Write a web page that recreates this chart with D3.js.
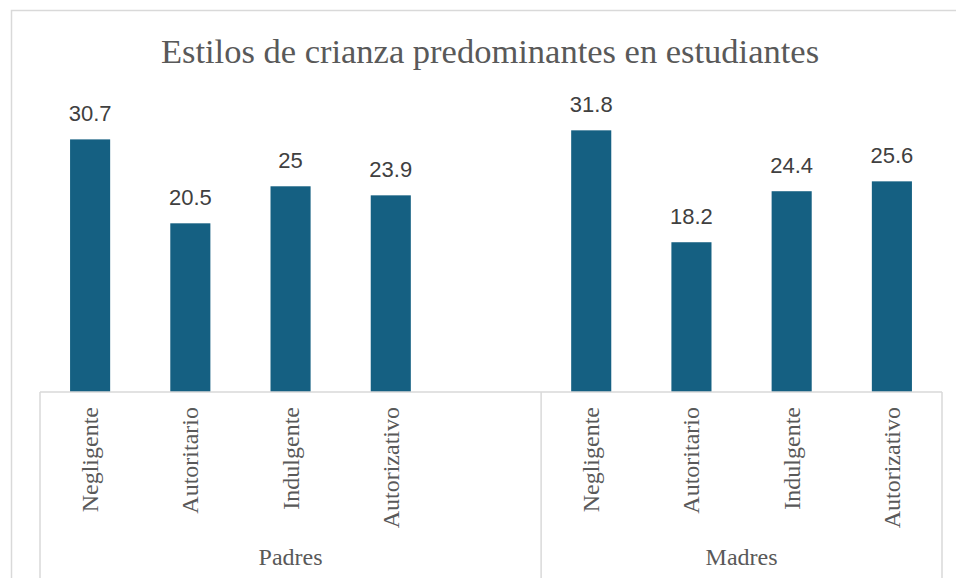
<!DOCTYPE html>
<html>
<head>
<meta charset="utf-8">
<script src="https://cdn.jsdelivr.net/npm/d3@7"></script>
<style>
  body { margin: 0; background: #fff; }
  svg { display: block; }
</style>
</head>
<body>
<script>
// chart data
var groups = ['Padres', 'Madres'];
var categories = ['Negligente', 'Autoritario', 'Indulgente', 'Autorizativo'];
var padres = [30.7, 20.5, 25, 23.9];
var madres = [31.8, 18.2, 24.4, 25.6];
var yTicks = [0, 35];

var width = 956, height = 578;
var barColor = '#156082';
var lineColor = '#d9d9d9';

// build rows: padres has an empty slot after it, like the source sheet
var rows = [];
categories.forEach(function(c, i) { rows.push({ key: 'p' + i, group: 'Padres', cat: c, value: padres[i] }); });
rows.push({ key: 'blank', group: 'Padres', cat: '', value: null });
categories.forEach(function(c, i) { rows.push({ key: 'm' + i, group: 'Madres', cat: c, value: madres[i] }); });

var svg = d3.select('body').append('svg')
  .attr('width', width)
  .attr('height', height);

// chart border
svg.append('rect')
  .attr('x', 11.5).attr('y', 10.5)
  .attr('width', 960).attr('height', 600)
  .attr('fill', 'none')
  .attr('stroke', lineColor)
  .attr('stroke-width', 1.5);

var x = d3.scaleBand()
  .domain(rows.map(function(d) { return d.key; }))
  .range([40, 942])
  .paddingInner(0.6)
  .paddingOuter(0.3);

var y = d3.scaleLinear()
  .domain([yTicks[0], yTicks[1]])
  .range([392, 104]);

// title
svg.append('text')
  .attr('x', 490)
  .attr('y', 63)
  .attr('text-anchor', 'middle')
  .style('font-family', '"Liberation Serif", "Times New Roman", serif')
  .style('font-size', '34.5px')
  .attr('fill', '#595959')
  .text('Estilos de crianza predominantes en estudiantes');

// bars
var valued = rows.filter(function(d) { return d.value != null; });
svg.append('g')
  .selectAll('rect')
  .data(valued)
  .enter().append('rect')
  .attr('x', function(d) { return x(d.key); })
  .attr('y', function(d) { return y(d.value); })
  .attr('width', x.bandwidth())
  .attr('height', function(d) { return y(0) - y(d.value); })
  .attr('fill', barColor);

// value labels
svg.append('g')
  .selectAll('text')
  .data(valued)
  .enter().append('text')
  .attr('x', function(d) { return x(d.key) + x.bandwidth() / 2; })
  .attr('y', function(d) { return y(d.value) - 18; })
  .attr('text-anchor', 'middle')
  .style('font-family', '"Liberation Sans", Arial, sans-serif')
  .style('font-size', '22px')
  .attr('fill', '#404040')
  .text(function(d) { return d.value; });

// category axis: horizontal line + group dividers
var step = x.step();
var axisY = y(0);
svg.append('line')
  .attr('x1', 40).attr('x2', 942)
  .attr('y1', axisY).attr('y2', axisY)
  .attr('stroke', lineColor).attr('stroke-width', 1.5);

var groupBounds = groups.map(function(g) {
  var ks = rows.filter(function(d) { return d.group == g; });
  var first = x(ks[0].key) + x.bandwidth() / 2 - step / 2;
  var last = x(ks[ks.length - 1].key) + x.bandwidth() / 2 + step / 2;
  return { group: g, x0: first, x1: last };
});
var dividers = [groupBounds[0].x0, groupBounds[0].x1, groupBounds[1].x1];
svg.append('g')
  .selectAll('line')
  .data(dividers)
  .enter().append('line')
  .attr('x1', function(d) { return d; }).attr('x2', function(d) { return d; })
  .attr('y1', axisY).attr('y2', height)
  .attr('stroke', lineColor).attr('stroke-width', 1.5);

// rotated category labels
svg.append('g')
  .selectAll('text')
  .data(rows.filter(function(d) { return d.cat != ''; }))
  .enter().append('text')
  .attr('transform', function(d) {
    return 'translate(' + (x(d.key) + x.bandwidth() / 2 + 8) + ',' + (axisY + 15) + ') rotate(-90)';
  })
  .attr('text-anchor', 'end')
  .style('font-family', '"Liberation Serif", "Times New Roman", serif')
  .style('font-size', '24px')
  .attr('fill', '#595959')
  .text(function(d) { return d.cat; });

// group labels
svg.append('g')
  .selectAll('text')
  .data(groupBounds)
  .enter().append('text')
  .attr('x', function(d) { return (d.x0 + d.x1) / 2; })
  .attr('y', 565)
  .attr('text-anchor', 'middle')
  .style('font-family', '"Liberation Serif", "Times New Roman", serif')
  .style('font-size', '24px')
  .attr('fill', '#595959')
  .text(function(d) { return d.group; });
</script>
</body>
</html>
